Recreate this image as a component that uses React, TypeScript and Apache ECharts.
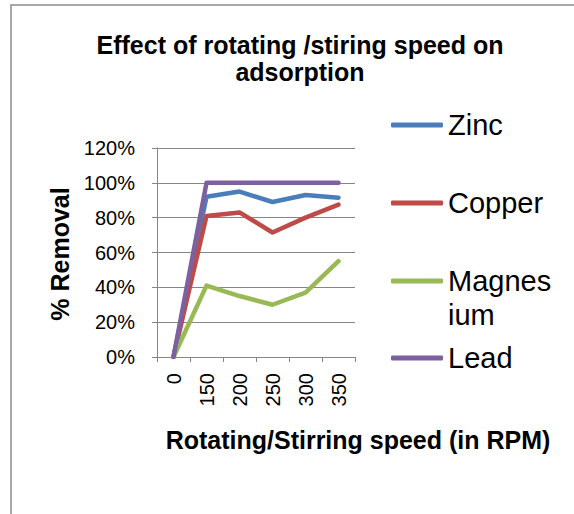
import React, { useEffect, useRef } from "react";
import * as echarts from "echarts";

const categories = ["0", "150", "200", "250", "300", "350"];
const zinc = [0, 92, 95, 89, 93, 91.5];
const copper = [0, 81, 83, 71.5, 80, 87.5];
const magnesium = [0, 41, 35, 30, 37, 55];
const lead = [0, 100, 100, 100, 100, 100];
const seriesNames = ["Zinc", "Copper", "Magnesium", "Lead"];
const seriesColors = ["#4A7EBB", "#BE4B48", "#98B954", "#7D60A0"];

const FONT = "'Liberation Sans', Arial, sans-serif";

export default function App() {
  const ref = useRef<HTMLDivElement>(null);
  useEffect(() => {
    if (!ref.current) return;
    const chart = echarts.init(ref.current, undefined, { renderer: "svg" });
    const values = [zinc, copper, magnesium, lead];
    const legendTops = [108, 186, 230, 341];
    const option: any = {
      animation: false,
      backgroundColor: "#ffffff",
      textStyle: { fontFamily: FONT },
      grid: { left: 157, right: 219, top: 148, bottom: 157 },
      legend: seriesNames.map((n, i) => ({
        data: [n],
        orient: "vertical",
        left: 391,
        top: legendTops[i],
        padding: 0,
        icon: "roundRect",
        itemWidth: 52,
        itemHeight: 5,
        selectedMode: false,
        formatter: (name: string) => (name === "Magnesium" ? "\nMagnes\nium" : name),
        textStyle: { fontSize: 29, lineHeight: 34, color: "#000", fontFamily: FONT },
      })),
      xAxis: {
        type: "category",
        data: categories,
        boundaryGap: true,
        axisLine: { lineStyle: { color: "#868686", width: 1 } },
        axisTick: { show: true, length: 5, lineStyle: { color: "#868686" } },
        axisLabel: { rotate: 90, margin: 16, fontSize: 20, color: "#000", fontFamily: FONT },
        splitLine: { show: false },
      },
      yAxis: {
        type: "value",
        min: 0,
        max: 120,
        interval: 20,
        axisLine: { show: true, lineStyle: { color: "#868686", width: 1 } },
        axisTick: { show: true, length: 5, lineStyle: { color: "#868686" } },
        axisLabel: { formatter: "{value}%", margin: 22, fontSize: 20, color: "#000", fontFamily: FONT },
        splitLine: { show: true, lineStyle: { color: "#868686", width: 1 } },
      },
      series: seriesNames.map((n, i) => ({
        name: n,
        type: "line",
        data: values[i],
        symbol: "none",
        color: seriesColors[i],
        itemStyle: { color: seriesColors[i] },
        lineStyle: { width: 4.5, color: seriesColors[i], cap: "round", join: "round" },
      })),
      graphic: [
        {
          type: "rect",
          shape: { x: 11, y: 5, width: 700, height: 700 },
          style: { fill: "none", stroke: "#8c8c8c", lineWidth: 1.5 },
          silent: true,
        },
        {
          type: "text",
          x: 300,
          y: 58,
          style: {
            text: "Effect of rotating /stiring speed on\nadsorption",
            fontSize: 25,
            lineHeight: 27,
            fontWeight: "bold",
            fontFamily: FONT,
            fill: "#000",
            align: "center",
            verticalAlign: "middle",
          },
        },
        {
          type: "text",
          x: 60,
          y: 254,
          rotation: Math.PI / 2,
          style: {
            text: "% Removal",
            fontSize: 25,
            fontWeight: "bold",
            fontFamily: FONT,
            fill: "#000",
            align: "center",
            verticalAlign: "middle",
          },
        },
        {
          type: "text",
          x: 358,
          y: 440,
          style: {
            text: "Rotating/Stirring speed (in RPM)",
            fontSize: 25,
            fontWeight: "bold",
            fontFamily: FONT,
            fill: "#000",
            align: "center",
            verticalAlign: "middle",
          },
        },
      ],
    };
    chart.setOption(option);
    return () => chart.dispose();
  }, []);
  return (
    <div
      ref={ref}
      style={{ position: "fixed", left: 0, top: 0, width: 574, height: 514 }}
    />
  );
}
